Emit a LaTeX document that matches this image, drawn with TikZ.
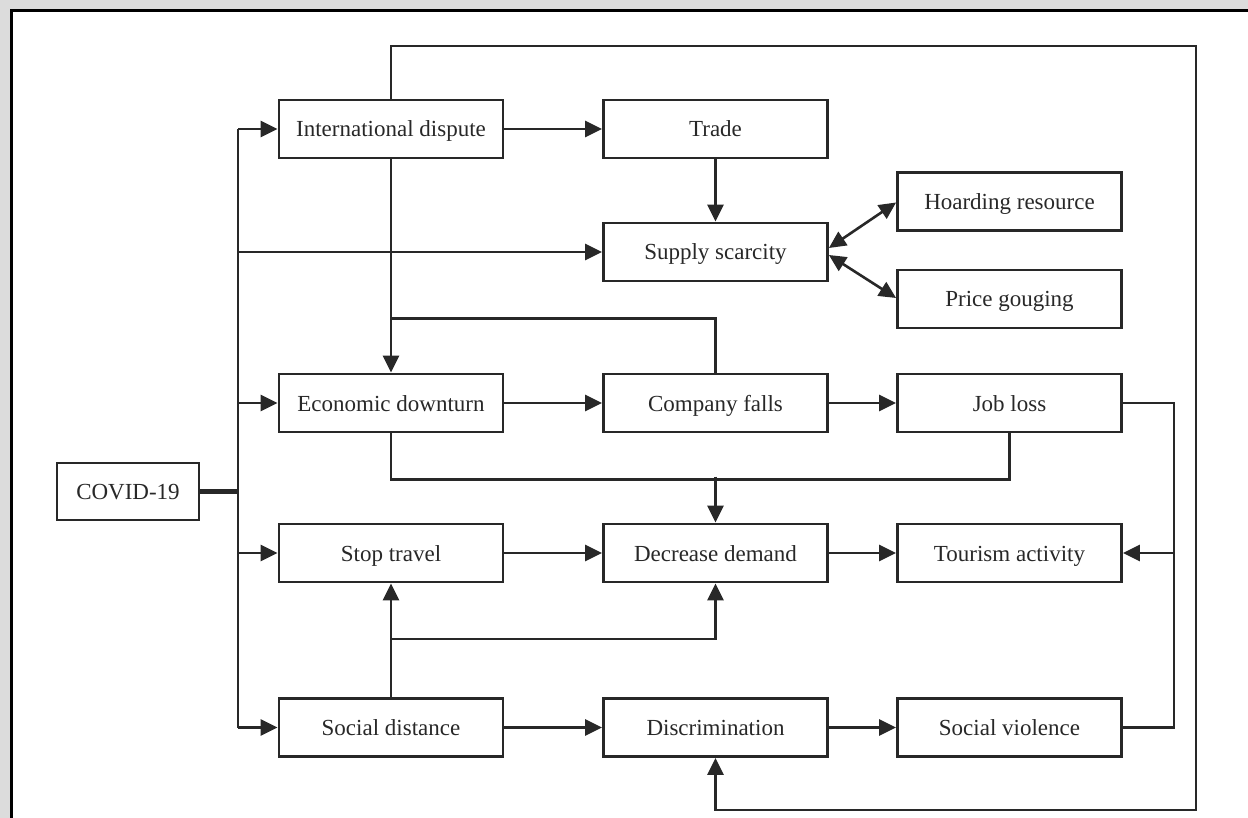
\documentclass[tikz,border=0pt]{standalone}
\usepackage{fontspec}
\setmainfont{Liberation Serif}
\usetikzlibrary{arrows.meta,calc}
\definecolor{bggray}{RGB}{220,220,220}
\definecolor{ink}{RGB}{40,40,40}
\tikzset{
  box/.style={draw=ink, line width=2.8pt, fill=white, minimum width=224pt, minimum height=58pt,
    inner sep=0pt, text height=19pt, text depth=3pt, text=ink, font=\fontsize{23}{26}\selectfont},
  conn/.style={draw=ink, line width=2.6pt},
  arr/.style={conn, -{Triangle[length=17pt,width=16pt]}},
  darr/.style={conn, {Triangle[length=17pt,width=16pt]}-{Triangle[length=17pt,width=16pt]}},
}
\begin{document}
\begin{tikzpicture}[x=1pt,y=1pt]
\useasboundingbox (0,0) rectangle (1248,-818);
\fill[bggray] (0,0) rectangle (1248,-818);
\fill[white] (10,-10) rectangle (1248,-818);
\draw[black, line width=3pt] (11,-818) -- (11,-11) -- (1248,-11);

% nodes
\node[box] (intl)  at (391,-129)   {International dispute};
\node[box] (trade) at (715.5,-129) {Trade};
\node[box] (hoard) at (1009.5,-201.5) {Hoarding resource};
\node[box] (supply) at (715.5,-252) {Supply scarcity};
\node[box] (price) at (1009.5,-299) {Price gouging};
\node[box] (econ)  at (391,-403)   {Economic downturn};
\node[box] (comp)  at (715.5,-403) {Company falls};
\node[box] (job)   at (1009.5,-403) {Job loss};
\node[box, minimum width=142pt, minimum height=57pt] (covid) at (128,-491.5) {COVID-19};
\node[box] (stop)  at (391,-553)   {Stop travel};
\node[box] (dec)   at (715.5,-553) {Decrease demand};
\node[box] (tour)  at (1009.5,-553) {Tourism activity};
\node[box] (social) at (391,-727.5) {Social distance};
\node[box] (disc)  at (715.5,-727.5) {Discrimination};
\node[box] (viol)  at (1009.5,-727.5) {Social violence};

\coordinate (bus) at (238,0);
\coordinate (jx) at (1174,0);
\coordinate (rt) at (1196,-46);
\coordinate (bt) at (715.5,-810);

% COVID bus
\draw[conn, line width=4.5pt] (covid.east) -- (covid.east -| bus);
\draw[conn] (intl.west -| bus) -- (social.west -| bus);
\draw[arr] (intl.west -| bus) -- (intl.west);
\draw[arr] (supply.west -| bus) -- (supply.west);
\draw[arr] (econ.west -| bus) -- (econ.west);
\draw[arr] (stop.west -| bus) -- (stop.west);
\draw[arr] (social.west -| bus) -- (social.west);

% top loop to discrimination
\draw[arr] (intl.north) |- (rt) |- (bt) -- (disc.south);

% international dispute
\draw[arr] (intl.south) -- (econ.north);
\draw[arr] (intl.east) -- (trade.west);
\draw[arr] (trade.south) -- (supply.north);

% supply scarcity double arrows
\draw[darr] ([yshift=4pt]supply.east) -- ([yshift=-1pt]hoard.west);
\draw[darr] ([yshift=-3pt]supply.east) -- ([yshift=1pt]price.west);

% company falls back to the vertical line
\draw[conn] (comp.north) -- ++(0,54) -- ($(econ.north)+(0,54)$);

% economic row
\draw[arr] (econ.east) -- (comp.west);
\draw[arr] (comp.east) -- (job.west);

% job loss / social violence to tourism
\draw[conn] (job.east) -- (job.east -| jx) -- (viol.east -| jx) -- (viol.east);
\draw[arr] (tour.east -| jx) -- (tour.east);

% merge to decrease demand
\draw[conn] (econ.south) -- ++(0,-46) -| (job.south);
\draw[arr] ([yshift=46pt]dec.north) -- (dec.north);

% middle row
\draw[arr] (stop.east) -- (dec.west);
\draw[arr] (dec.east) -- (tour.west);

% social distance
\draw[arr] (social.north) -- (stop.south);
\draw[arr] ($(social.north)+(0,58)$) -| (dec.south);

% bottom row
\draw[arr] (social.east) -- (disc.west);
\draw[arr] (disc.east) -- (viol.west);
\end{tikzpicture}
\end{document}
